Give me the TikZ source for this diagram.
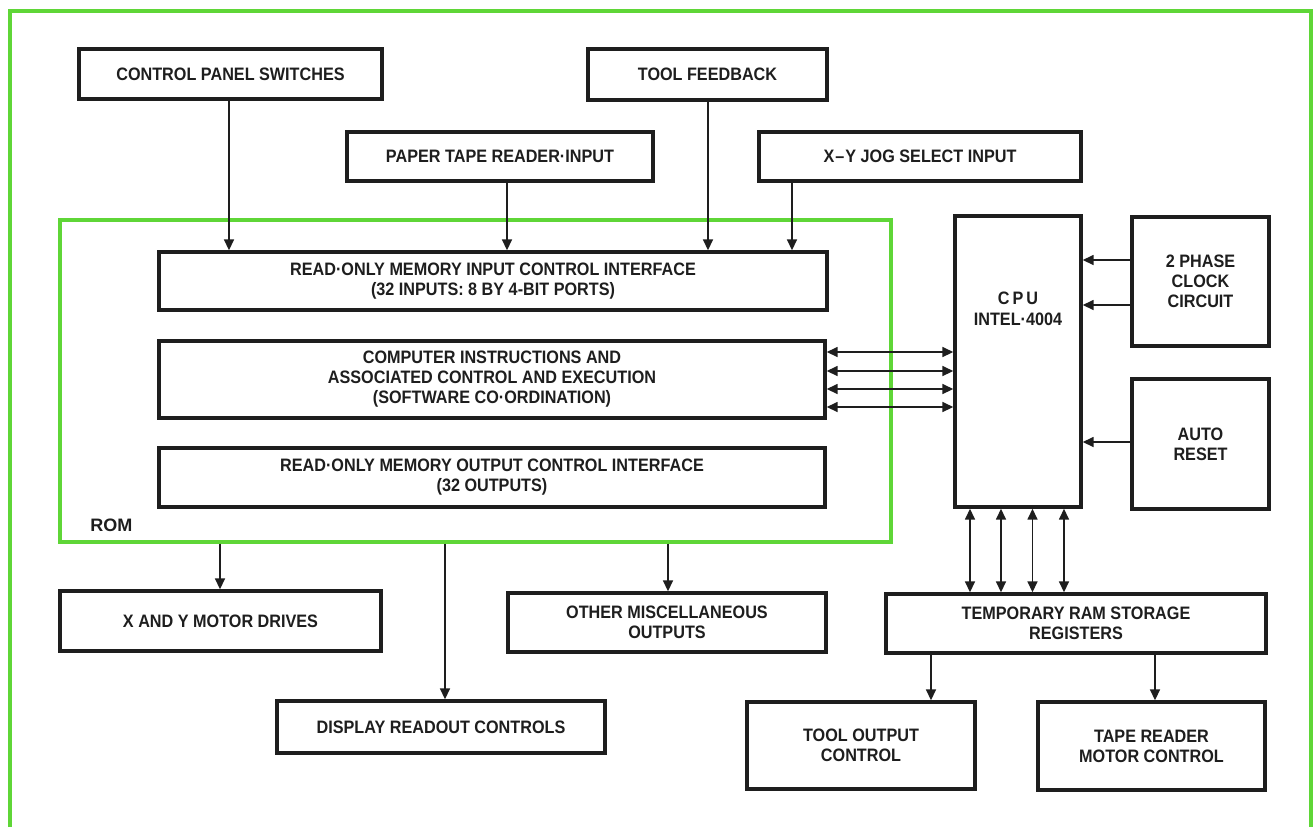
\documentclass[tikz,border=0pt]{standalone}
\usepackage{fontspec}
\setmainfont{Liberation Sans}
\newfontfamily\labfont{Liberation Sans}[FakeStretch=0.9]
\usetikzlibrary{arrows.meta}
\definecolor{romgreen}{RGB}{95,214,55}
\definecolor{ink}{RGB}{30,30,30}
\begin{document}
\begin{tikzpicture}[x=0.5pt,y=-0.5pt,
 box/.style={draw=ink, line width=1.7pt, align=center, inner sep=0pt,
   font=\labfont\bfseries\fontsize{9}{10}\selectfont, text=ink},
 lbl/.style={align=center, inner sep=0pt, font=\labfont\bfseries\fontsize{9}{10.5}\selectfont, text=ink},
 arr/.style={draw=ink, line width=0.8pt, -{Triangle[length=5.5pt,width=5pt]}},
 barr/.style={draw=ink, line width=0.8pt, {Triangle[length=5.5pt,width=5pt]}-{Triangle[length=5.5pt,width=5pt]}},
 frame/.style={draw=romgreen, line width=1.6pt}]
\useasboundingbox (0,0) rectangle (1314,827);
\fill[white] (0,0) rectangle (1314,827);
% outer frame
\draw[frame] (10,827) -- (10,11) -- (1311,11) -- (1311,827);
% ROM frame
\node[frame, draw, minimum width=415.5pt, minimum height=161pt, inner sep=0pt] (rom) at (475.5,381) {};
\node[anchor=west, inner sep=0pt, font=\bfseries\fontsize{9}{10}\selectfont, text=ink] (romlbl) at (90,525) {ROM};
% boxes
\node[box, minimum width=151.5pt, minimum height=25pt] (cps) at (230.5,74) {CONTROL PANEL SWITCHES};
\node[box, minimum width=153pt, minimum height=24.5pt] (ptr) at (500,156.5) {PAPER TAPE READER·INPUT};
\node[box, minimum width=119.5pt, minimum height=25.5pt] (tf) at (707.5,74.5) {TOOL FEEDBACK};
\node[box, minimum width=161pt, minimum height=24.5pt] (xy) at (920,156.5) {X\kern0.5pt\textendash\kern0.5pt Y JOG SELECT INPUT};
\node[box, minimum width=334pt, minimum height=29pt] (rin) at (493,281) {READ·ONLY MEMORY INPUT CONTROL INTERFACE\\(32 INPUTS: 8 BY 4-BIT PORTS)};
\node[box, minimum width=333pt, minimum height=38.5pt] (cin) at (492,379.5) {COMPUTER INSTRUCTIONS AND\\ASSOCIATED CONTROL AND EXECUTION\\(SOFTWARE CO·ORDINATION)};
\node[box, minimum width=333pt, minimum height=29.5pt] (rout) at (492,477.5) {READ·ONLY MEMORY OUTPUT CONTROL INTERFACE\\(32 OUTPUTS)};
\node[box, minimum width=63pt, minimum height=145.5pt] (cpu) at (1018,361.5) {};
\node[lbl] (cputxt) at (1018,309) {C\,P\,U\\INTEL·4004};
\node[box, minimum width=68.5pt, minimum height=64.5pt] (clk) at (1200.5,281.5) {2 PHASE\\CLOCK\\CIRCUIT};
\node[box, minimum width=68.5pt, minimum height=65pt] (ar) at (1200.5,444) {AUTO\\RESET};
\node[box, minimum width=190pt, minimum height=29.5pt] (ram) at (1076,623.5) {TEMPORARY RAM STORAGE\\REGISTERS};
\node[box, minimum width=114pt, minimum height=43.5pt] (toc) at (861,745.5) {TOOL OUTPUT\\CONTROL};
\node[box, minimum width=113.5pt, minimum height=44pt] (trm) at (1151.5,746) {TAPE READER\\MOTOR CONTROL};
\node[box, minimum width=159pt, minimum height=29.5pt] (misc) at (667,622.5) {OTHER MISCELLANEOUS\\OUTPUTS};
\node[box, minimum width=160.5pt, minimum height=30pt] (xym) at (220.5,621) {X AND Y MOTOR DRIVES};
\node[box, minimum width=164pt, minimum height=26pt] (disp) at (441,727) {DISPLAY READOUT CONTROLS};
% helper coordinates
\coordinate (i1) at (229,0);
\coordinate (i2) at (507,0);
\coordinate (i3) at (708,0);
\coordinate (i4) at (792,0);
\coordinate (c1) at (0,260);
\coordinate (c2) at (0,305);
\coordinate (c3) at (0,442);
\coordinate (b1) at (0,352);
\coordinate (b2) at (0,371);
\coordinate (b3) at (0,389);
\coordinate (b4) at (0,407);
\coordinate (r1) at (970,0);
\coordinate (r2) at (1001,0);
\coordinate (r3) at (1032.5,0);
\coordinate (r4) at (1064,0);
\coordinate (o1) at (931,0);
\coordinate (o2) at (1155,0);
\coordinate (m1) at (220,0);
\coordinate (m2) at (445,0);
\coordinate (m3) at (668,0);
% input arrows
\draw[arr] (cps.south -| i1) -- (rin.north -| i1);
\draw[arr] (ptr.south -| i2) -- (rin.north -| i2);
\draw[arr] (tf.south -| i3) -- (rin.north -| i3);
\draw[arr] (xy.south -| i4) -- (rin.north -| i4);
% clock and reset
\draw[arr] (clk.west |- c1) -- (cpu.east |- c1);
\draw[arr] (clk.west |- c2) -- (cpu.east |- c2);
\draw[arr] (ar.west |- c3) -- (cpu.east |- c3);
% bus
\foreach \b in {b1,b2,b3,b4} \draw[barr] (cin.east |- \b) -- (cpu.west |- \b);
\foreach \r in {r1,r2,r3,r4} \draw[barr] (cpu.south -| \r) -- (ram.north -| \r);
% RAM outputs
\draw[arr] (ram.south -| o1) -- (toc.north -| o1);
\draw[arr] (ram.south -| o2) -- (trm.north -| o2);
% ROM outputs
\draw[arr] (rom.south -| m1) -- (xym.north -| m1);
\draw[arr] (rom.south -| m2) -- (disp.north -| m2);
\draw[arr] (rom.south -| m3) -- (misc.north -| m3);
\end{tikzpicture}
\end{document}
